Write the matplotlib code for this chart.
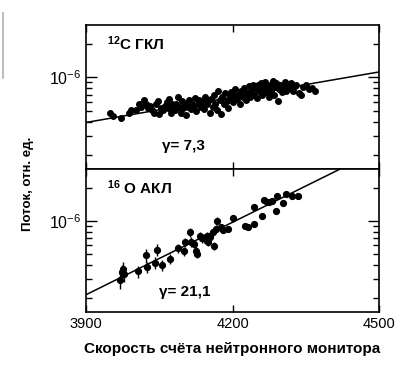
import numpy as np
import matplotlib
matplotlib.use('Agg')
import matplotlib.pyplot as plt
from matplotlib import ticker
from matplotlib.lines import Line2D

plt.rcParams['font.family'] = ['Liberation Sans', 'DejaVu Sans']
plt.rcParams['mathtext.fontset'] = 'custom'
plt.rcParams['mathtext.rm'] = 'Liberation Sans'
plt.rcParams['mathtext.bf'] = 'Liberation Sans:bold'

# ---- data: neutron monitor count rate vs flux (units of 1e-7) ----
# 12C, galactic cosmic rays (upper panel)
c_rate = [3950, 3955, 3972, 3988, 3993, 4003, 4008, 4012,
          4018, 4022, 4027, 4030, 4035, 4040, 4043, 4047, 4050, 4053, 4057,
          4062, 4065, 4068, 4070, 4073, 4076, 4079, 4082, 4085, 4088, 4091,
          4094, 4096, 4099, 4102, 4105, 4108,
          4111, 4114, 4117, 4120, 4123, 4126, 4129, 4132, 4135, 4138, 4141,
          4144, 4147, 4150, 4153, 4156, 4159, 4162, 4165, 4168,
          4171, 4174, 4176, 4179, 4182, 4185, 4188, 4191, 4194, 4197, 4200,
          4203, 4206, 4209, 4212, 4215, 4218, 4221, 4224, 4227, 4230,
          4233, 4236, 4238, 4241, 4244, 4247, 4250, 4252, 4255, 4258, 4261,
          4263, 4266, 4269, 4271, 4274, 4277, 4279, 4282, 4285, 4287, 4290,
          4293, 4295, 4298,
          4301, 4304, 4307, 4310, 4313, 4316, 4320, 4323, 4327, 4331, 4336,
          4340, 4344, 4350, 4356, 4362, 4369]
c_flux = [4.8, 4.46, 4.35, 4.8, 5.05, 5.05, 5.7, 5.37,
          6.2, 5.8, 5.25, 5.55, 5.05, 4.8, 5.7, 6.08, 4.65, 5.25, 5.05,
          5.55, 5.95, 5.25, 6.35, 4.8, 5.7, 5.37, 5.05, 5.8, 6.6, 5.45,
          4.74, 6.08, 5.25, 5.7, 4.55, 5.45,
          6.2, 5.15, 5.8, 5.45, 6.47, 4.95, 5.7, 6.2, 5.37, 5.95, 5.15,
          6.6, 5.7, 6.08, 4.8, 6.35, 5.45, 6.88, 5.8, 5.05,
          7.5, 6.2, 4.65, 6.7, 5.7, 7.2, 6.08, 5.25, 6.6, 7.33, 5.95,
          6.88, 7.8, 6.35, 7.0, 5.8, 7.5, 6.6, 7.95, 6.2, 7.2,
          8.3, 6.7, 7.6, 8.6, 7.0, 7.95, 6.47, 8.45, 7.5, 8.83, 6.88,
          7.95, 9.0, 7.33, 8.3, 6.6, 8.6, 7.6, 9.2, 7.0, 8.1, 8.83,
          6.08, 7.8, 8.6,
          7.33, 8.3, 9.0, 7.6, 8.45, 7.95, 8.83, 7.5, 8.3, 8.6, 7.2,
          6.88, 8.1, 8.45, 7.8, 7.95, 7.6]

# 16O, anomalous cosmic rays (lower panel)
o_rate = [3970, 3973, 3976, 3978, 4007, 4022, 4024, 4041, 4045, 4055,
          4071, 4088, 4101, 4103, 4113, 4115, 4122, 4125, 4128, 4133,
          4137, 4142, 4147, 4150, 4154, 4159, 4162, 4166, 4168, 4176,
          4180, 4190, 4200, 4226, 4232, 4243, 4245, 4260, 4265, 4270,
          4275, 4280, 4291, 4289, 4303, 4310, 4321, 4335]
o_flux = [2.9, 3.45, 3.7, 3.33, 3.49, 4.87, 3.83, 4.19, 5.48, 3.96,
          4.55, 5.67, 5.3, 6.43, 7.9, 6.5, 6.2, 5.4, 5.05, 7.28,
          6.98, 6.98, 7.28, 6.5, 7.1, 7.9, 5.92, 8.47, 10.07, 8.77,
          8.35, 8.47, 10.6, 9.07, 8.77, 9.4, 13.3, 11.0, 15.5, 14.9,
          14.7, 15.3, 16.7, 12.4, 14.5, 17.5, 16.7, 16.7]
o_err = [0.16, 0.15, 0.15, 0.15, 0.12, 0.14, 0.12, 0.12, 0.12, 0.11,
         0.10, 0.10, 0.10, 0.10, 0.10, 0.10, 0.09, 0.09, 0.09, 0.09,
         0.09, 0.09, 0.08, 0.08, 0.08, 0.08, 0.08, 0.08, 0.08, 0.07,
         0.07, 0.07, 0.07, 0.06, 0.06, 0.06, 0.06, 0.05, 0.05, 0.05,
         0.05, 0.05, 0.05, 0.05, 0.05, 0.05, 0.05, 0.05]

# power-law fits  F = F0 * (N / 3900) ** gamma
c_gamma, c_f0 = 7.3, 3.93e-7
o_gamma, o_f0 = 21.1, 2.15e-7

xticks = [3900, 4200, 4500]
ylim = (1.5e-7, 2.95e-6)


def style_axis(ax):
    ax.set_yscale('log')
    ax.set_ylim(*ylim)
    ax.set_xlim(3900, 4500)
    ax.set_xticks(xticks)
    ax.yaxis.set_major_locator(ticker.LogLocator(base=10))
    ax.yaxis.set_minor_locator(ticker.LogLocator(base=10, subs=np.arange(2, 10)))
    ax.yaxis.set_minor_formatter(ticker.NullFormatter())
    ax.tick_params(which='both', direction='in', top=True, right=True,
                   width=1.0, labelsize=10.5)
    ax.tick_params(axis='y', which='major', labelsize=11.5)
    ax.tick_params(which='major', length=8)
    ax.tick_params(axis='x', which='major', length=5)
    ax.tick_params(which='minor', length=4.5)
    for s in ax.spines.values():
        s.set_linewidth(1.2)


fig = plt.figure(figsize=(4.19, 3.83), dpi=100)
ax1 = fig.add_axes([0.2053, 0.5587, 0.6993, 0.376])
ax2 = fig.add_axes([0.2053, 0.1854, 0.6993, 0.3733], sharex=ax1)

# upper panel
cx = np.array(c_rate)
cy = np.array(c_flux) * 1e-7
ax1.errorbar(cx, cy, yerr=cy * 0.04, fmt='o', color='black', ms=4.0,
             elinewidth=1.0, capsize=0, zorder=3)
lx = np.array([3900, 4500])
ax1.plot(lx, c_f0 * (lx / 3900) ** c_gamma, color='black', lw=1.1)
style_axis(ax1)
ax1.tick_params(labelbottom=False)
ax1.text(0.07, 0.87, r'$\mathbf{^{12}}$C ГКЛ', transform=ax1.transAxes,
         fontsize=11, fontweight='bold', va='center', ha='left')
ax1.text(0.26, 0.16, 'γ= 7,3', transform=ax1.transAxes, fontsize=11,
         fontweight='bold', va='center', ha='left')

# lower panel
ox = np.array(o_rate)
oy = np.array(o_flux) * 1e-7
ax2.errorbar(ox, oy, yerr=oy * np.array(o_err), fmt='o', color='black', ms=4.2,
             elinewidth=1.0, capsize=0, zorder=3)
ax2.plot(lx, o_f0 * (lx / 3900) ** o_gamma, color='black', lw=1.1)
style_axis(ax2)
ax2.text(0.07, 0.87, r'$\mathbf{^{16}}$ O АКЛ', transform=ax2.transAxes,
         fontsize=11, fontweight='bold', va='center', ha='left')
ax2.text(0.25, 0.14, 'γ= 21,1', transform=ax2.transAxes, fontsize=11,
         fontweight='bold', va='center', ha='left')

ax2.set_xlabel('Скорость счёта нейтронного монитора', fontsize=11,
               fontweight='bold', labelpad=8)
fig.text(0.068, 0.52, 'Поток, отн. ед.', rotation=90, fontsize=9.5,
         fontweight='bold', ha='center', va='center')

# scan artefact on the left margin
fig.add_artist(Line2D([0.008, 0.008], [1 - 13 / 383, 1 - 78 / 383],
                      color='#b0b0b0', lw=1.2))

fig.savefig('out.png', dpi=100)
